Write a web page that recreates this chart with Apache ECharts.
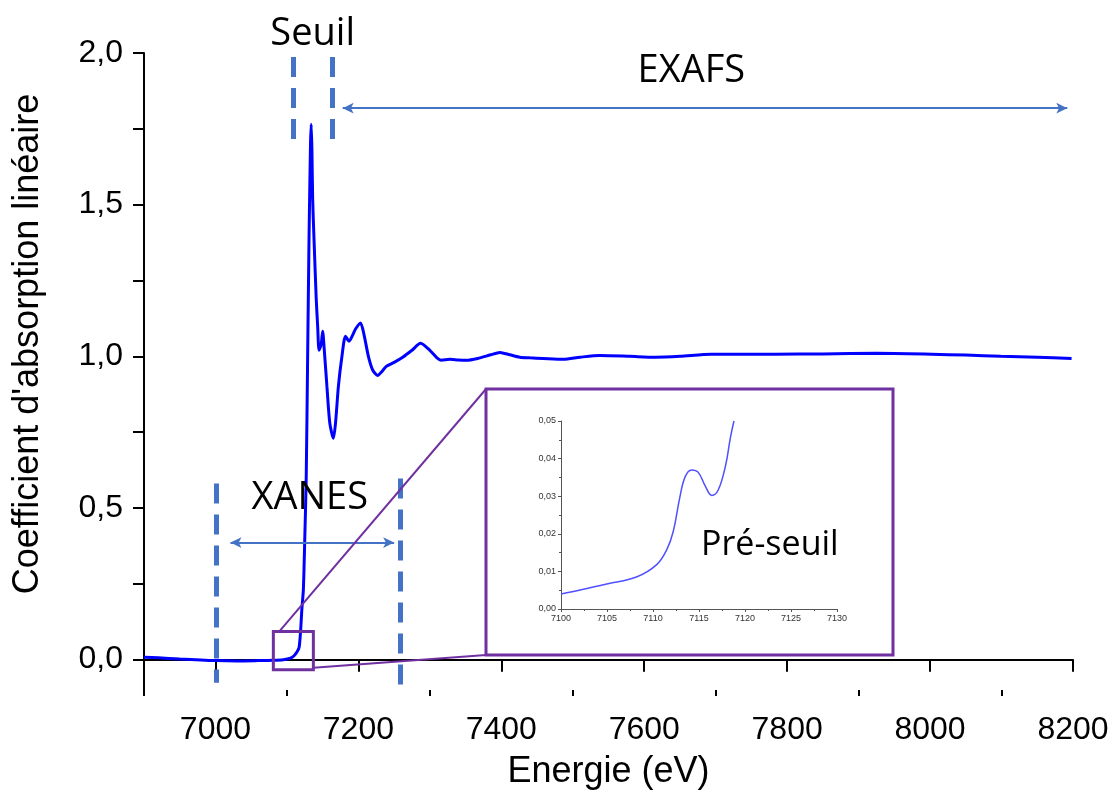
<!DOCTYPE html>
<html>
<head>
<meta charset="utf-8">
<title>Spectre XAS</title>
<script src="https://cdn.jsdelivr.net/npm/echarts@6/dist/echarts.min.js"></script>
<style>
  html, body { margin: 0; padding: 0; background: #fff; }
  #main { width: 1112px; height: 801px; }
</style>
</head>
<body>
<div id="main"></div>
<script>
// spectre complet (eV / coefficient d'absorption)
var energie = [6900, 6920, 6950, 6980, 7000, 7030, 7060, 7080, 7095, 7105, 7110, 7114, 7117, 7119, 7121,
    7123, 7125, 7127, 7129, 7131, 7133, 7134, 7135, 7136, 7138, 7141, 7143, 7145, 7148, 7150, 7152,
    7156, 7160, 7165, 7168, 7172, 7177, 7182, 7187, 7192, 7196, 7203, 7208, 7214, 7220, 7227, 7233, 7239,
    7250, 7262, 7275, 7287, 7300, 7310, 7316, 7328, 7340, 7351, 7367, 7385, 7398, 7412, 7426, 7440, 7458,
    7487, 7510, 7538, 7580, 7615, 7650, 7694, 7740, 7783, 7850, 7925, 8002, 8050, 8099, 8150, 8198];
var absorption = [0.008, 0.006, 0.002, -0.001, -0.003, -0.004, -0.003, -0.002, 0.0, 0.005, 0.013, 0.025, 0.04, 0.09, 0.17,
    0.23, 0.4, 0.6, 1.0, 1.4, 1.7, 1.765, 1.68, 1.52, 1.38, 1.19, 1.1, 1.02, 1.04, 1.083, 1.03,
    0.9, 0.78, 0.73, 0.78, 0.9, 1.0, 1.066, 1.05, 1.07, 1.09, 1.11, 1.07, 1.0, 0.955, 0.937, 0.95, 0.967,
    0.98, 0.997, 1.02, 1.043, 1.02, 0.995, 0.987, 0.99, 0.988, 0.987, 0.993, 1.005, 1.013, 1.005, 0.997, 0.995, 0.993,
    0.99, 0.997, 1.003, 1.0, 0.997, 1.0, 1.007, 1.007, 1.007, 1.008, 1.01, 1.007, 1.004, 1.0, 0.997, 0.993];

// zoom sur le pré-seuil
var insetEnergie = [7100, 7102.2, 7105.1, 7108.2, 7110.4, 7111.5, 7112.2, 7112.9, 7113.5, 7114.2,
    7114.9, 7115.7, 7116.4, 7117.1, 7117.9, 7118.4, 7118.8];
var insetAbsorption = [0.004, 0.0051, 0.0067, 0.0085, 0.0118, 0.0158, 0.0206, 0.0295, 0.0352, 0.037,
    0.0364, 0.0326, 0.0302, 0.0317, 0.0383, 0.0454, 0.05];

// graduations
var xLabels = [7000, 7200, 7400, 7600, 7800, 8000, 8200];
var xMinor = [6900, 7100, 7300, 7500, 7700, 7900, 8100];
var yLabels = [0, 0.5, 1, 1.5, 2];
var yTicks = [0, 0.25, 0.5, 0.75, 1, 1.25, 1.5, 1.75, 2];

// zones (seuil, XANES, EXAFS) en coordonnées des données
var seuilBornes = [7109, 7163];
var seuilHaut = [1.987, 1.696];
var xanesBornes = [7001, 7259];
var xanesHaut = [[0.581, -0.076], [0.597, -0.1]];
var xanesFleche = [7021, 7250, 0.386];
var exafsFleche = [7178, 8192, 1.818];
var zoomBox = [7081, 7137, -0.033, 0.093];

var bleu = '#4472c4';
var violet = '#7030a0';

function virgule(d) {
    return function (v) { return v.toFixed(d).replace('.', ','); };
}
function brut(v) { return String(v); }
function pairs(xs, ys) {
    return xs.map(function (x, i) { return [x, ys[i]]; });
}
function tiret(x, y1, y2) {
    return [{coord: [x, y1]}, {coord: [x, y2], lineStyle: {color: bleu, width: 5, type: [20, 11]}}];
}
function fleche(x1, x2, y) {
    return [
        {coord: [x1, y], symbol: 'arrow', symbolSize: [8, 11]},
        {coord: [x2, y], symbol: 'arrow', symbolSize: [8, 11], lineStyle: {color: bleu, width: 2, type: 'solid'}}
    ];
}

var chart = echarts.init(document.getElementById('main'));

var option = {
    animation: false,
    grid: [
        {left: 144, right: 39, top: 53, bottom: 111},
        {left: 561, top: 421, width: 276, height: 188}
    ],
    xAxis: [
        {
            gridIndex: 0, type: 'value', min: 6900, max: 8200,
            name: 'Energie (eV)', nameLocation: 'middle', nameGap: 64,
            nameTextStyle: {fontFamily: 'Liberation Sans', fontSize: 36, color: '#000'},
            axisLine: {lineStyle: {color: '#000', width: 2}},
            axisTick: {customValues: xLabels, length: 12, lineStyle: {color: '#000', width: 2}},
            axisLabel: {customValues: xLabels, margin: 24, formatter: brut,
                fontFamily: 'Liberation Sans', fontSize: 32, color: '#000'},
            splitLine: {show: false}
        },
        {
            gridIndex: 0, type: 'value', min: 6900, max: 8200, position: 'bottom',
            axisLine: {show: false},
            axisTick: {customValues: xMinor, length: 6, lineStyle: {color: '#000', width: 2}},
            axisLabel: {show: false},
            splitLine: {show: false}
        },
        {
            gridIndex: 1, type: 'value', min: 7100, max: 7130, interval: 5,
            axisLine: {lineStyle: {color: '#555', width: 1}},
            axisTick: {length: 3, lineStyle: {color: '#555'}},
            minorTick: {show: true, splitNumber: 2, length: 2, lineStyle: {color: '#555'}},
            axisLabel: {margin: 5, formatter: brut, fontFamily: 'Liberation Sans', fontSize: 9, color: '#333'},
            splitLine: {show: false}
        }
    ],
    yAxis: [
        {
            gridIndex: 0, type: 'value', min: -0.1, max: 2,
            axisLine: {lineStyle: {color: '#000', width: 2}},
            axisTick: {customValues: yTicks, length: 11, lineStyle: {color: '#000', width: 2}},
            axisLabel: {customValues: yLabels, margin: 21, formatter: virgule(1),
                fontFamily: 'Liberation Sans', fontSize: 32, color: '#000'},
            splitLine: {show: false}
        },
        {
            gridIndex: 1, type: 'value', min: 0, max: 0.05, interval: 0.01,
            axisLine: {show: true, lineStyle: {color: '#555', width: 1}},
            axisTick: {show: true, length: 3, lineStyle: {color: '#555'}},
            minorTick: {show: true, splitNumber: 2, length: 2, lineStyle: {color: '#555'}},
            axisLabel: {margin: 5, formatter: virgule(2), fontFamily: 'Liberation Sans', fontSize: 9, color: '#333'},
            splitLine: {show: false}
        }
    ],
    series: [
        {
            name: 'spectre', type: 'line', xAxisIndex: 0, yAxisIndex: 0,
            data: pairs(energie, absorption),
            showSymbol: false, smooth: 0.25,
            lineStyle: {color: '#0000ff', width: 3},
            markLine: {
                silent: true, symbol: 'none', animation: false,
                label: {show: false},
                data: [
                    tiret(seuilBornes[0], seuilHaut[0], seuilHaut[1]),
                    tiret(seuilBornes[1], seuilHaut[0], seuilHaut[1]),
                    tiret(xanesBornes[0], xanesHaut[0][0], xanesHaut[0][1]),
                    tiret(xanesBornes[1], xanesHaut[1][0], xanesHaut[1][1]),
                    fleche(xanesFleche[0], xanesFleche[1], xanesFleche[2]),
                    fleche(exafsFleche[1], exafsFleche[0], exafsFleche[2])
                ]
            }
        },
        {
            name: 'pre-seuil', type: 'line', xAxisIndex: 2, yAxisIndex: 1,
            data: pairs(insetEnergie, insetAbsorption),
            showSymbol: false, smooth: 0.4,
            lineStyle: {color: '#5050ff', width: 1.5}
        }
    ]
};
chart.setOption(option);

// cadres violets, traits de liaison et textes
function px(p) { return chart.convertToPixel({gridIndex: 0}, p); }
function pxInset(p) { return chart.convertToPixel({gridIndex: 1}, p); }

var b1 = px([zoomBox[0], zoomBox[3]]);
var b2 = px([zoomBox[1], zoomBox[2]]);
var cadre = {x: 486, y: 389, width: 407, height: 266};
var txt = function (pos, t, size, font) {
    return {
        type: 'text', x: pos[0], y: pos[1], silent: true, z: 10,
        style: {text: t, align: 'center', verticalAlign: 'middle', fontFamily: font || 'Open Sans', fontSize: size, fill: '#000'}
    };
};
var titreY = txt([28, 344], "Coefficient d'absorption linéaire", 36, 'Liberation Sans');
titreY.rotation = Math.PI / 2;

chart.setOption({
    graphic: [
        {type: 'rect', shape: {x: b1[0], y: b1[1], width: b2[0] - b1[0], height: b2[1] - b1[1]},
            style: {fill: null, stroke: violet, lineWidth: 3}, silent: true, z: 10},
        {type: 'rect', shape: cadre, style: {fill: null, stroke: violet, lineWidth: 3}, silent: true, z: 10},
        {type: 'line', shape: {x1: b1[0] + 6, y1: b1[1], x2: cadre.x, y2: cadre.y},
            style: {stroke: violet, lineWidth: 2}, silent: true, z: 10},
        {type: 'line', shape: {x1: b2[0], y1: b2[1] - 2, x2: cadre.x, y2: cadre.y + cadre.height},
            style: {stroke: violet, lineWidth: 2}, silent: true, z: 10},
        txt(px([7136, 2.063]), 'Seuil', 38),
        txt(px([7666, 1.94]), 'EXAFS', 38),
        txt(px([7132, 0.531]), 'XANES', 38),
        txt(pxInset([7122.7, 0.017]), 'Pré-seuil', 34),
        titreY
    ]
});
</script>
</body>
</html>
